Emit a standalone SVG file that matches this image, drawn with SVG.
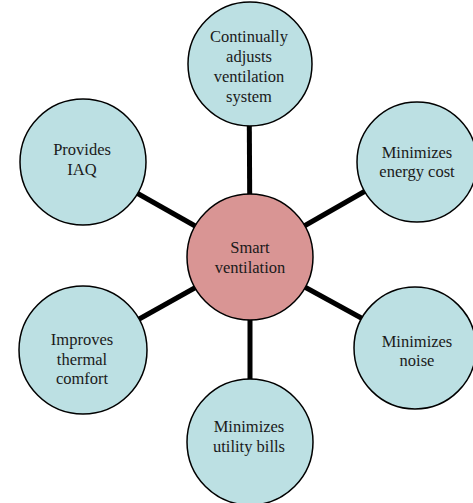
<svg xmlns="http://www.w3.org/2000/svg" width="473" height="503" viewBox="0 0 473 503">
<style>
.n{fill:#BCE0E3;stroke:#000;stroke-width:1.5}
.c{fill:#D99594;stroke:#000;stroke-width:1.5}
.t{font-family:'Liberation Serif','Times New Roman',serif;font-size:16.5px;fill:#1a1a1a;text-anchor:middle}
.l{stroke:#000;stroke-width:5}
</style>
<rect width="473" height="503" fill="#fff"/>
<g id="connectors">
<line class="l" x1="250" y1="257" x2="249" y2="64"/>
<line class="l" x1="250" y1="257" x2="82" y2="162"/>
<line class="l" x1="250" y1="257" x2="416" y2="162"/>
<line class="l" x1="250" y1="257" x2="82" y2="351"/>
<line class="l" x1="250" y1="257" x2="416" y2="348"/>
<line class="l" x1="250" y1="257" x2="250" y2="443"/>
</g>
<g id="n-top"><circle class="n" cx="250" cy="64" r="62"/>
<text class="t" x="249" y="42">Continually</text><text class="t" x="249" y="62">adjusts</text><text class="t" x="249" y="82">ventilation</text><text class="t" x="249" y="102">system</text></g>
<g id="n-iaq"><circle class="n" cx="83" cy="162" r="63"/>
<text class="t" x="82" y="155">Provides</text><text class="t" x="82" y="175">IAQ</text></g>
<g id="n-energy"><circle class="n" cx="417" cy="162" r="60"/>
<text class="t" x="417" y="158">Minimizes</text><text class="t" x="417" y="177">energy cost</text></g>
<g id="n-center"><circle class="c" cx="250" cy="257" r="63"/>
<text class="t" x="250" y="253">Smart</text><text class="t" x="250" y="273">ventilation</text></g>
<g id="n-thermal"><circle class="n" cx="83" cy="350" r="64"/>
<text class="t" x="82" y="345">Improves</text><text class="t" x="82" y="365">thermal</text><text class="t" x="82" y="384">comfort</text></g>
<g id="n-noise"><circle class="n" cx="415" cy="348" r="61"/>
<text class="t" x="417" y="347">Minimizes</text><text class="t" x="417" y="366">noise</text></g>
<g id="n-bills"><circle class="n" cx="250" cy="442" r="63"/>
<text class="t" x="249" y="432">Minimizes</text><text class="t" x="249" y="452">utility bills</text></g>
</svg>
